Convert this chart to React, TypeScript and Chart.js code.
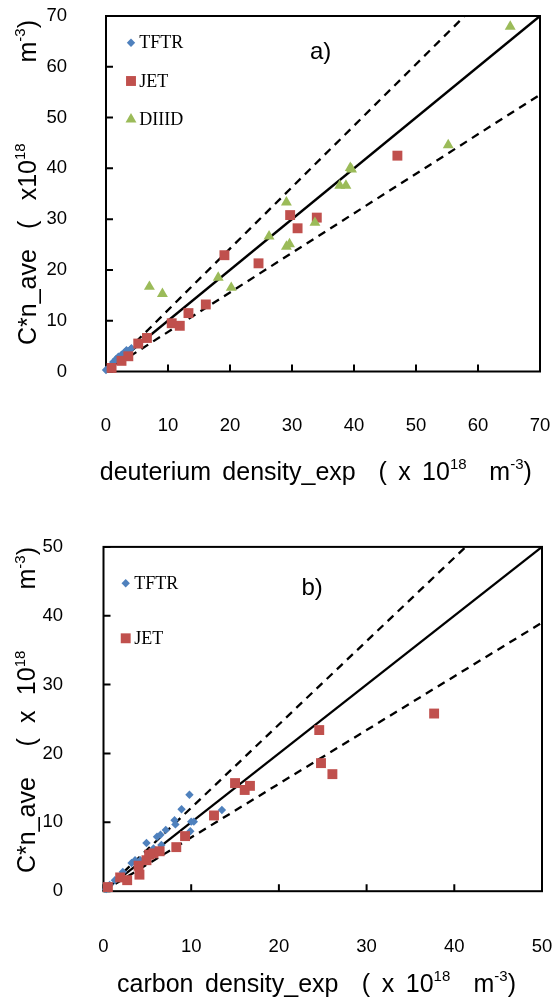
import React, { useEffect, useRef } from 'react';
import { Chart, registerables } from 'chart.js';

Chart.register(...registerables);

const SANS = '"Liberation Sans", Arial, sans-serif';
const SERIF = '"Liberation Serif", "Times New Roman", serif';

const C_TFTR = '#4F81BD';
const C_JET = '#C0504D';
const C_DIIID = '#9BBB59';

// ---------- Panel a) deuterium ----------
const aTicksMax = 70;
const aTFTRx = [0.0, 0.5, 1.0, 1.2, 1.6, 2.0, 2.5, 3.0, 3.3, 3.6, 4.1];
const aTFTRy = [0.3, 0.8, 1.5, 1.9, 2.4, 2.9, 3.3, 3.8, 4.2, 4.0, 4.6];
const aJETx = [0.9, 2.5, 3.6, 5.2, 6.6, 10.6, 11.9, 13.3, 16.1, 19.1, 24.6, 29.7, 30.9, 34.0, 47.0];
const aJETy = [0.7, 2.1, 3.0, 5.5, 6.6, 9.5, 9.0, 11.5, 13.2, 22.9, 21.3, 30.8, 28.2, 30.3, 42.5];
const aDIIIDx = [7.0, 9.1, 18.1, 20.2, 26.3, 29.1, 29.1, 29.6, 33.7, 37.7, 38.7, 39.4, 39.6, 55.2, 65.2];
const aDIIIDy = [16.7, 15.3, 18.5, 16.5, 26.6, 33.3, 24.6, 25.1, 29.3, 36.6, 36.6, 40.1, 39.8, 44.6, 67.9];
const aLineX = [0, 70];
const aLineY = [0, 70];
const aUpperX = [0, 57.85];
const aUpperY = [0, 70];
const aLowerX = [0, 70];
const aLowerY = [0, 54.5];

// ---------- Panel b) carbon ----------
const bTicksMax = 50;
const bTFTRx = [0.3, 0.7, 1.3, 2.2, 3.2, 3.6, 4.2, 4.9, 5.2, 5.7, 6.1, 6.5, 6.6, 7.1, 8.1, 8.2, 8.9, 9.8, 9.9, 10.3, 10.0, 13.5];
const bTFTRy = [0.3, 0.9, 1.6, 2.8, 4.1, 4.5, 4.5, 7.0, 5.4, 6.2, 7.9, 8.2, 6.7, 8.9, 10.3, 9.7, 11.9, 14.0, 8.7, 10.1, 10.1, 11.8];
const bJETx = [0.5, 1.9, 2.7, 4.0, 4.1, 4.9, 5.2, 5.7, 6.4, 8.3, 9.3, 12.6, 15.0, 16.1, 16.7, 24.6, 24.8, 26.1, 37.7];
const bJETy = [0.6, 2.0, 1.6, 3.7, 2.4, 4.5, 5.3, 5.5, 5.8, 6.4, 8.0, 11.0, 15.7, 14.7, 15.3, 23.4, 18.6, 17.0, 25.8];
const bLineX = [0, 50];
const bLineY = [0, 50];
const bUpperX = [0, 41.3];
const bUpperY = [0, 50];
const bLowerX = [0, 50];
const bLowerY = [0, 39];

const zip = (xs: number[], ys: number[]) => xs.map((x, i) => ({ x, y: ys[i] }));

type Seg = { t: string; sup?: boolean };

function drawRich(ctx: CanvasRenderingContext2D, segs: Seg[], cx: number, cy: number, rotate: boolean, target: number, size: number) {
  const base = `${size}px ${SANS}`;
  const supF = `${Math.round(size * 0.6)}px ${SANS}`;
  const toks: { t: string; sup: boolean; space: boolean }[] = [];
  segs.forEach((s) =>
    s.t
      .split(/( +)/)
      .filter((x) => x.length)
      .forEach((x) => toks.push({ t: x, sup: !!s.sup, space: /^ +$/.test(x) }))
  );
  let natural = 0;
  let nSp = 0;
  toks.forEach((k) => {
    ctx.font = k.sup ? supF : base;
    natural += ctx.measureText(k.t).width;
    if (k.space) nSp += k.t.length;
  });
  const extra = nSp ? (target - natural) / nSp : 0;
  ctx.save();
  ctx.translate(cx, cy);
  if (rotate) ctx.rotate(-Math.PI / 2);
  ctx.textAlign = 'left';
  ctx.textBaseline = 'alphabetic';
  ctx.fillStyle = '#000';
  let x = -target / 2;
  const bl = size * 0.3;
  toks.forEach((k) => {
    ctx.font = k.sup ? supF : base;
    const w = ctx.measureText(k.t).width;
    if (!k.space) ctx.fillText(k.t, x, bl - (k.sup ? size * 0.42 : 0));
    x += w + (k.space ? extra * k.t.length : 0);
  });
  ctx.restore();
}

function marker(ctx: CanvasRenderingContext2D, style: string, x: number, y: number, r: number, color: string) {
  ctx.save();
  ctx.fillStyle = color;
  ctx.beginPath();
  if (style === 'rectRot') {
    ctx.moveTo(x - r, y);
    ctx.lineTo(x, y - r);
    ctx.lineTo(x + r, y);
    ctx.lineTo(x, y + r);
  } else if (style === 'rect') {
    const s = r * Math.SQRT1_2;
    ctx.rect(x - s, y - s, 2 * s, 2 * s);
  } else {
    ctx.moveTo(x, y - r);
    ctx.lineTo(x + 0.866 * r, y + 0.5 * r);
    ctx.lineTo(x - 0.866 * r, y + 0.5 * r);
  }
  ctx.closePath();
  ctx.fill();
  ctx.restore();
}

const R_TFTR = 4.2;
const R_JET = 7;
const R_DIIID = 6.3;

type PanelCfg = {
  height: number;
  max: number;
  padTop: number;
  padRight: number;
  yWidth: number;
  xHeight: number;
  yPad: number;
  xPad: number;
  series: { label: string; xs: number[]; ys: number[]; color: string; style: string; r: number }[];
  lines: { xs: number[]; ys: number[]; dash: number[] }[];
  legendPos: { x: number; y: number }[];
  legendTextX: number;
  tag: string;
  tagX: number;
  tagY: number;
  xTitle: Seg[];
  xTitleC: [number, number, number];
  yTitle: Seg[];
  yTitleC: [number, number, number];
};

const panelA: PanelCfg = {
  height: 500,
  max: aTicksMax,
  padTop: 16,
  padRight: 15,
  yWidth: 106,
  xHeight: 128.5,
  yPad: 39,
  xPad: 43,
  series: [
    { label: 'TFTR', xs: aTFTRx, ys: aTFTRy, color: C_TFTR, style: 'rectRot', r: R_TFTR },
    { label: 'JET', xs: aJETx, ys: aJETy, color: C_JET, style: 'rect', r: R_JET },
    { label: 'DIIID', xs: aDIIIDx, ys: aDIIIDy, color: C_DIIID, style: 'triangle', r: R_DIIID },
  ],
  lines: [
    { xs: aLineX, ys: aLineY, dash: [] },
    { xs: aUpperX, ys: aUpperY, dash: [8, 6] },
    { xs: aLowerX, ys: aLowerY, dash: [8, 6] },
  ],
  legendPos: [
    { x: 131, y: 42.7 },
    { x: 131, y: 81 },
    { x: 131, y: 119.3 },
  ],
  legendTextX: 139.3,
  tag: 'a)',
  tagX: 310,
  tagY: 52,
  xTitle: [{ t: 'deuterium density_exp  ( x 10' }, { t: '18', sup: true }, { t: '  m' }, { t: '-3', sup: true }, { t: ')' }],
  xTitleC: [315.8, 472, 432],
  yTitle: [{ t: 'C*n_ave ( x10' }, { t: '18', sup: true }, { t: '    m' }, { t: '-3', sup: true }, { t: ')' }],
  yTitleC: [28, 182.5, 325],
};

const panelB: PanelCfg = {
  height: 501,
  max: bTicksMax,
  padTop: 46.9,
  padRight: 13,
  yWidth: 103.5,
  xHeight: 109.8,
  yPad: 40.5,
  xPad: 44.5,
  series: [
    { label: 'TFTR', xs: bTFTRx, ys: bTFTRy, color: C_TFTR, style: 'rectRot', r: R_TFTR },
    { label: 'JET', xs: bJETx, ys: bJETy, color: C_JET, style: 'rect', r: R_JET },
  ],
  lines: [
    { xs: bLineX, ys: bLineY, dash: [] },
    { xs: bUpperX, ys: bUpperY, dash: [8, 6] },
    { xs: bLowerX, ys: bLowerY, dash: [8, 6] },
  ],
  legendPos: [
    { x: 125.7, y: 83.3 },
    { x: 125.7, y: 138.3 },
  ],
  legendTextX: 134.3,
  tag: 'b)',
  tagX: 301.5,
  tagY: 88.5,
  xTitle: [{ t: 'carbon density_exp  ( x 10' }, { t: '18', sup: true }, { t: '  m' }, { t: '-3', sup: true }, { t: ')' }],
  xTitleC: [316.5, 484, 399],
  yTitle: [{ t: 'C*n_ave  ( x 10' }, { t: '18', sup: true }, { t: '    m' }, { t: '-3', sup: true }, { t: ')' }],
  yTitleC: [27.5, 210, 326],
};

function Panel({ cfg }: { cfg: PanelCfg }) {
  const ref = useRef<HTMLCanvasElement>(null);
  useEffect(() => {
    if (!ref.current) return;
    const tickFont = { family: SANS, size: 18.5 };
    const pointSets = cfg.series
      .map((s) => ({
        label: s.label,
        type: 'scatter' as const,
        data: zip(s.xs, s.ys),
        backgroundColor: s.color,
        borderColor: s.color,
        borderWidth: 0,
        pointStyle: s.style,
        pointRadius: s.r,
        pointHoverRadius: s.r,
        showLine: false,
        clip: false as any,
      }))
      .reverse();
    const lineSets = cfg.lines.map((l, i) => ({
      label: 'line' + i,
      type: 'scatter' as const,
      data: zip(l.xs, l.ys),
      showLine: true,
      borderColor: '#000',
      borderWidth: 2.3,
      borderDash: l.dash,
      pointRadius: 0,
      fill: false,
      clip: false as any,
    }));
    const decor = {
      id: 'decor',
      beforeDatasetsDraw(chart: any) {
        const { ctx, chartArea: a, scales } = chart;
        ctx.save();
        ctx.strokeStyle = '#000';
        ctx.lineWidth = 2;
        ctx.strokeRect(a.left, a.top, a.right - a.left, a.bottom - a.top);
        ctx.beginPath();
        const TL = 7;
        scales.x.ticks.forEach((_t: any, i: number) => {
          const px = scales.x.getPixelForTick(i);
          ctx.moveTo(px, a.bottom);
          ctx.lineTo(px, a.bottom - TL);
        });
        scales.y.ticks.forEach((_t: any, i: number) => {
          const py = scales.y.getPixelForTick(i);
          ctx.moveTo(a.left, py);
          ctx.lineTo(a.left + TL, py);
        });
        ctx.stroke();
        ctx.restore();
      },
      afterDraw(chart: any) {
        const ctx = chart.ctx as CanvasRenderingContext2D;
        cfg.series.forEach((s, i) => {
          const p = cfg.legendPos[i];
          marker(ctx, s.style, p.x, p.y, s.r, s.color);
          ctx.save();
          ctx.fillStyle = '#000';
          ctx.font = `18px ${SERIF}`;
          ctx.textBaseline = 'middle';
          ctx.textAlign = 'left';
          ctx.fillText(s.label, cfg.legendTextX, p.y + 1);
          ctx.restore();
        });
        ctx.save();
        ctx.fillStyle = '#000';
        ctx.font = `24px ${SANS}`;
        ctx.textBaseline = 'middle';
        ctx.textAlign = 'left';
        ctx.fillText(cfg.tag, cfg.tagX, cfg.tagY);
        ctx.restore();
        drawRich(ctx, cfg.xTitle, cfg.xTitleC[0], cfg.xTitleC[1], false, cfg.xTitleC[2], 25);
        drawRich(ctx, cfg.yTitle, cfg.yTitleC[0], cfg.yTitleC[1], true, cfg.yTitleC[2], 25);
      },
    };
    const chart = new Chart(ref.current, {
      type: 'scatter',
      data: { datasets: [...pointSets, ...lineSets] as any },
      options: {
        responsive: false,
        animation: false,
        events: [],
        layout: { padding: { top: cfg.padTop, right: cfg.padRight, left: 0, bottom: 0 } },
        plugins: { legend: { display: false }, tooltip: { enabled: false }, title: { display: false } },
        scales: {
          x: {
            type: 'linear',
            min: 0,
            max: cfg.max,
            ticks: { stepSize: 10, color: '#000', font: tickFont, padding: cfg.xPad, maxRotation: 0 },
            grid: { display: false, drawTicks: false },
            border: { display: false },
            afterFit: (s: any) => {
              s.height = cfg.xHeight;
              s.paddingLeft = 0;
              s.paddingRight = 0;
            },
          },
          y: {
            type: 'linear',
            min: 0,
            max: cfg.max,
            ticks: { stepSize: 10, color: '#000', font: tickFont, padding: cfg.yPad },
            grid: { display: false, drawTicks: false },
            border: { display: false },
            afterFit: (s: any) => {
              s.width = cfg.yWidth;
              s.paddingTop = 0;
              s.paddingBottom = 0;
            },
          },
        },
      } as any,
      plugins: [decor],
    });
    return () => chart.destroy();
  }, [cfg]);
  return <canvas ref={ref} width={555} height={cfg.height} style={{ display: 'block', width: 555, height: cfg.height }} />;
}

export default function App() {
  return (
    <div style={{ position: 'absolute', left: 0, top: 0, width: 555, height: 1001, background: '#fff' }}>
      <Panel cfg={panelA} />
      <Panel cfg={panelB} />
    </div>
  );
}
